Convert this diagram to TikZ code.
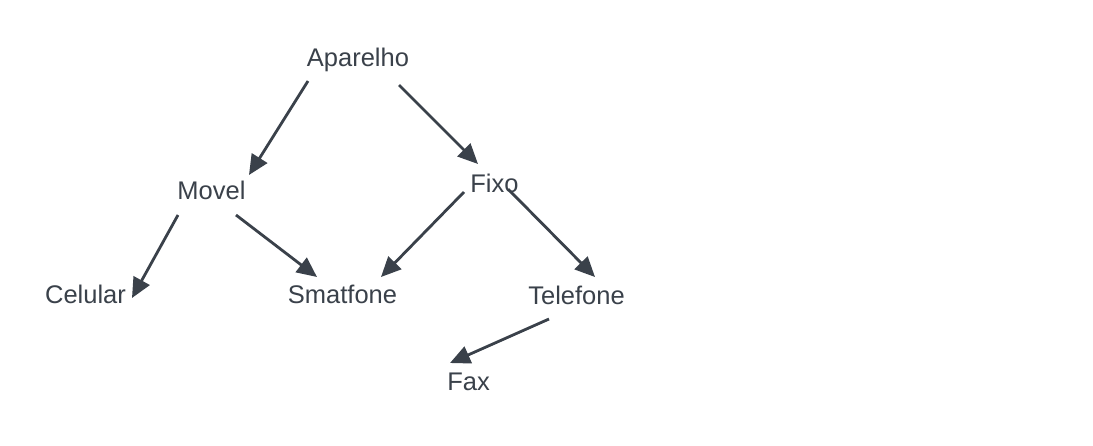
\documentclass[tikz,border=0pt]{standalone}
\usepackage{fontspec}
\setmainfont{Liberation Sans}
\usetikzlibrary{arrows.meta,calc}
\definecolor{ink}{HTML}{3A414A}
\begin{document}
\begin{tikzpicture}[x=1pt,y=-1pt,
  lbl/.style={inner sep=0pt, anchor=base, text=ink, font=\fontsize{25.5}{30}\selectfont},
  arr/.style={draw=ink, line width=2.8pt, -{Triangle[length=20pt,width=18pt]}}]
\fill[white] (0,0) rectangle (1093,445);
\useasboundingbox (0,0) rectangle (1093,445);
\node[lbl] (ap) at (358,66) {Aparelho};
\node[lbl] (mv) at (211.5,199) {Movel};
\node[lbl] (fx) at (494.5,192) {Fixo};
\node[lbl] (ce) at (85.5,303) {Celular};
\node[lbl] (sm) at (342.5,303) {Smatfone};
\node[lbl] (te) at (576.5,304) {Telefone};
\node[lbl] (fa) at (468.5,390) {Fax};
\draw[arr] ($(ap.base)+(-50,15)$) -- ($(mv.base)+(37.5,-24)$);
\draw[arr] ($(ap.base)+(41,19)$) -- ($(fx.base)+(-16.5,-28)$);
\draw[arr] ($(mv.base)+(-33.5,16)$) -- ($(ce.base)+(46.5,-5)$);
\draw[arr] ($(mv.base)+(24.5,16)$) -- ($(sm.base)+(-25.5,-26)$);
\draw[arr] ($(fx.base)+(-30.5,0)$) -- ($(sm.base)+(38.5,-26)$);
\draw[arr] ($(fx.base)+(13.5,-3)$) -- ($(te.base)+(18.5,-27)$);
\draw[arr] ($(te.base)+(-27.5,15)$) -- ($(fa.base)+(-18.5,-27)$);
\end{tikzpicture}
\end{document}
